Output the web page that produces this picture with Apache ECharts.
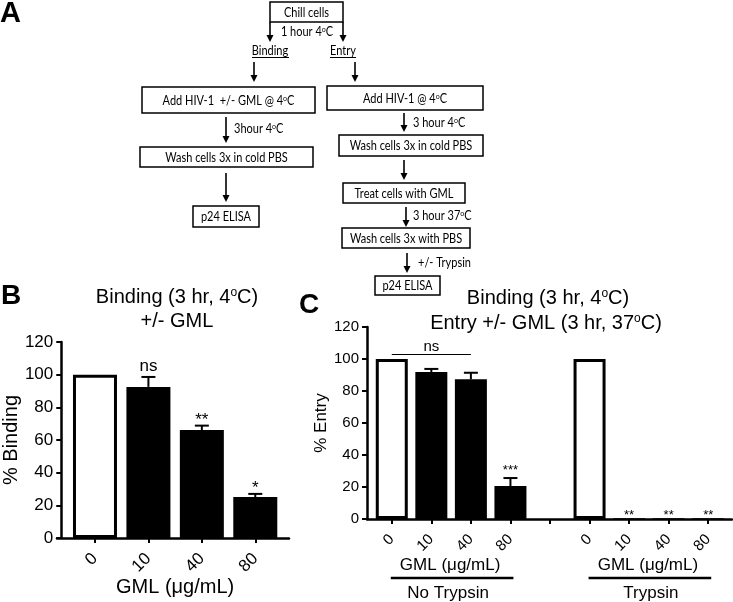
<!DOCTYPE html>
<html><head><meta charset="utf-8">
<script src="https://cdn.jsdelivr.net/npm/echarts@6/dist/echarts.min.js"></script>
<style>html,body{margin:0;padding:0;background:#fff}#c{width:733px;height:602px}</style>
</head><body><div id="c"></div>
<script>
// ---------- data ----------
const doseLabels = ['0', '10', '40', '80'];
const bindingValues = [100, 92.5, 66.1, 25.1];
const bindingErrTop = [null, 98.6, 68.8, 27.0];
const bindingSig = ['', 'ns', '**', '*'];

const entryCategories = ['0', '10', '40', '80', '', '0', '10', '40', '80'];
const entryValues = [100, 91.9, 87.3, 20.6, null, 100, 0.5, 0.5, 0.5];
const entryErrTop = [null, 93.8, 91.4, 25.6, null, null, null, null, null];
const entrySig = ['', '', '', '***', '', '', '**', '**', '**'];
const entryNsRange = [0, 2];
const entryNsLevel = 103;
const entryNsIndex = 1;
const entryGroups = ['No Trypsin', 'Trypsin'];
const entryGroupRanges = [[0, 3], [5, 8]];

const yMin = 0, yMax = 120, yStep = 20;
const doseAxisName = 'GML (\u03bcg/mL)';

const flowSteps = ['Chill cells', '1 hour 4{s|o}C', 'Binding', 'Entry',
  'Add HIV-1  +/- GML @ 4{s|o}C', 'Add HIV-1 @ 4{s|o}C', '3hour 4{s|o}C', '3 hour 4{s|o}C',
  'Wash cells 3x in cold PBS', 'Wash cells 3x in cold PBS', 'p24 ELISA', 'Treat cells with GML',
  '3 hour 37{s|o}C', 'Wash cells 3x with PBS', '+/- Trypsin', 'p24 ELISA'];

// ---------- styles ----------
const F = '"Liberation Sans", Arial, sans-serif';
const FF = 'Lato, "Open Sans", sans-serif';
const BLACK = '#000';

function barData(values, labels) {
  return values.map((v, i) => {
    if (v == null) return '-';
    if (labels[i] === '0') return { value: v, itemStyle: { color: '#fff', borderColor: BLACK, borderWidth: 3 } };
    return { value: v, itemStyle: { color: BLACK } };
  });
}
function errData(values, tops) {
  const out = [];
  tops.forEach((t, i) => { if (t != null) out.push([i, values[i], t]); });
  return out;
}
function sigData(values, tops, sig, dyErr, dyBar) {
  const out = [];
  sig.forEach((s, i) => {
    if (!s) return;
    const hasErr = tops[i] != null;
    const isStar = s.charAt(0) === '*';
    out.push({ value: [i, hasErr ? tops[i] : values[i]], name: s,
      label: { offset: [0, isStar ? (hasErr ? dyErr : dyBar) : 0] } });
  });
  return out;
}
function errRender(params, api) {
  const base = api.coord([api.value(0), api.value(1)]);
  const top = api.coord([api.value(0), api.value(2)]);
  const h = 7;
  return { type: 'group', children: [
    { type: 'line', shape: { x1: base[0], y1: base[1], x2: top[0], y2: top[1] }, style: { stroke: BLACK, lineWidth: 2 } },
    { type: 'line', shape: { x1: top[0] - h, y1: top[1], x2: top[0] + h, y2: top[1] }, style: { stroke: BLACK, lineWidth: 2 } }
  ] };
}

function yAxisCfg(grid, name, nameSize, labelSize, offset, nameGap) {
  return {
    type: 'value', gridIndex: grid, min: yMin, max: yMax, interval: yStep, offset: offset,
    name: name, nameLocation: 'middle', nameRotate: 90, nameGap: nameGap,
    nameTextStyle: { fontFamily: F, fontSize: nameSize, color: BLACK },
    axisLine: { show: true, lineStyle: { color: BLACK, width: 2.5 } },
    axisTick: { show: true, length: 5, lineStyle: { color: BLACK, width: 2 } },
    axisLabel: { fontFamily: F, fontSize: labelSize, color: BLACK, margin: 8 },
    splitLine: { show: false }
  };
}
function xCatAxis(grid, cats, size, margin) {
  return { type: 'category', gridIndex: grid, data: cats,
    axisLine: { show: false },
    axisTick: { show: true, alignWithLabel: true, interval: 0, length: 5, lineStyle: { color: BLACK, width: 2 } },
    axisLabel: { show: true, rotate: 45, interval: 0, fontFamily: F, fontSize: size, color: BLACK, margin: margin } };
}
function xLineAxis(grid) {
  return { type: 'value', gridIndex: grid, min: 0, max: 1, show: true,
    axisLine: { show: true, onZero: false, lineStyle: { color: BLACK, width: 2.5 } },
    axisTick: { show: false }, axisLabel: { show: false }, splitLine: { show: false } };
}

const chart = echarts.init(document.getElementById('c'));

const sigLabel = (size) => ({ show: true, position: 'top', distance: 2, formatter: p => p.name,
  fontFamily: F, color: BLACK, fontSize: size });

const option = {
  animation: false,
  backgroundColor: '#fff',
  grid: [
    { left: 64, width: 218, top: 342, height: 196 },
    { left: 57, width: 232, top: 342, height: 196 },
    { left: 372, width: 356, top: 327, height: 192 },
    { left: 367, width: 365, top: 327, height: 192 }
  ],
  xAxis: [
    xCatAxis(0, doseLabels, 17, 18),
    xLineAxis(1),
    xCatAxis(2, entryCategories, 15, 18),
    xLineAxis(3)
  ],
  yAxis: [
    yAxisCfg(0, '% Binding', 20, 17, 7, 36),
    { type: 'value', gridIndex: 1, min: 0, max: 1, show: false },
    yAxisCfg(2, '% Entry', 17, 15, 5, 30),
    { type: 'value', gridIndex: 3, min: 0, max: 1, show: false }
  ],
  series: [
    { type: 'bar', xAxisIndex: 0, yAxisIndex: 0, barWidth: 44, data: barData(bindingValues, doseLabels) },
    { type: 'custom', xAxisIndex: 0, yAxisIndex: 0, renderItem: errRender, data: errData(bindingValues, bindingErrTop), z: 3 },
    { type: 'scatter', xAxisIndex: 0, yAxisIndex: 0, symbolSize: 0, itemStyle: { opacity: 1 },
      data: sigData(bindingValues, bindingErrTop, bindingSig, 5, 5),
      label: sigLabel(17) },
    { type: 'bar', xAxisIndex: 2, yAxisIndex: 2, barWidth: 32, data: barData(entryValues, entryCategories),
      markLine: { silent: true, symbol: 'none', label: { show: false },
        lineStyle: { color: BLACK, width: 1, type: 'solid', opacity: 1 },
        data: [[{ coord: [entryNsRange[0], entryNsLevel] }, { coord: [entryNsRange[1], entryNsLevel] }]] } },
    { type: 'custom', xAxisIndex: 2, yAxisIndex: 2, renderItem: errRender, data: errData(entryValues, entryErrTop), z: 3 },
    { type: 'scatter', xAxisIndex: 2, yAxisIndex: 2, symbolSize: 0, itemStyle: { opacity: 1 },
      data: sigData(entryValues, entryErrTop, entrySig, 1, 6),
      label: sigLabel(13) },
    { type: 'scatter', xAxisIndex: 2, yAxisIndex: 2, symbolSize: 0, itemStyle: { opacity: 1 },
      data: [{ value: [entryNsIndex, entryNsLevel], name: 'ns' }],
      label: { show: true, position: 'top', distance: 0, formatter: p => p.name, fontFamily: F, color: BLACK, fontSize: 15 } }
  ]
};
chart.setOption(option);

// ---------- graphic: titles, panel letters, group labels, flowchart ----------
function txt(x, y, text, size, opts) {
  opts = opts || {};
  const st = {
    text: text, x: 0, y: 0, fill: BLACK,
    font: (opts.bold ? 'bold ' : '') + size + 'px ' + (opts.family || F),
    textAlign: opts.align || 'center', align: opts.align || 'center',
    textVerticalAlign: 'middle', verticalAlign: 'middle'
  };
  if (text.indexOf('{s|') >= 0) {
    st.rich = { s: { fontSize: Math.round(size * 0.62), fontFamily: opts.family || F, verticalAlign: 'top', fill: BLACK, color: BLACK } };
  }
  return { type: 'text', x: x, y: y, scaleX: opts.sx || 1, style: st, z: 10 };
}
function line(x1, y1, x2, y2, w) {
  return { type: 'line', shape: { x1, y1, x2, y2 }, style: { stroke: BLACK, lineWidth: w || 1.5 }, z: 10 };
}
const FS = 12.5, SX = 0.88;
function ftxt(x, y, text, align) {
  return txt(x, y, text, FS, { family: FF, align: align || 'center', sx: SX });
}
function box(x1, y1, x2, y2, label) {
  return [
    { type: 'rect', shape: { x: x1, y: y1, width: x2 - x1, height: y2 - y1 }, style: { fill: '#fff', stroke: BLACK, lineWidth: 1.5 }, z: 10 },
    ftxt((x1 + x2) / 2, (y1 + y2) / 2 + 0.5, label)
  ];
}
function arrow(x, y1, y2) {
  return [
    line(x, y1, x, y2 - 4, 1.6),
    { type: 'polygon', shape: { points: [[x - 3.5, y2 - 7], [x, y2], [x + 3.5, y2 - 7]] }, style: { fill: BLACK }, z: 10 }
  ];
}

const g = [];
// panel letters
g.push(txt(0, 14, 'A', 29, { bold: true, align: 'left' }));
g.push(txt(1, 296, 'B', 28, { bold: true, align: 'left' }));
g.push(txt(299, 305, 'C', 28, { bold: true, align: 'left' }));
// titles
g.push(txt(177, 297, 'Binding (3 hr, 4{s|o}C)', 20));
g.push(txt(177, 321, '+/- GML', 20));
g.push(txt(548, 298, 'Binding (3 hr, 4{s|o}C)', 20));
g.push(txt(546, 323, 'Entry +/- GML (3 hr, 37{s|o}C)', 20));

// flowchart
g.push(...box(270, 2, 343, 22, flowSteps[0]));
g.push(...arrow(270, 22, 42), ...arrow(343, 22, 42));
g.push(ftxt(307, 32, flowSteps[1]));
g.push(ftxt(270, 51, flowSteps[2]), line(252, 57.5, 289, 57.5, 1));
g.push(ftxt(343, 51, flowSteps[3]), line(330, 57.5, 356, 57.5, 1));
g.push(...arrow(254, 62, 82), ...arrow(355, 62, 82));
g.push(...box(142, 87, 315, 113, flowSteps[4]));
g.push(...box(327, 86, 483, 110, flowSteps[5]));
g.push(...arrow(226, 117, 143));
g.push(ftxt(234, 129, flowSteps[6], 'left'));
g.push(...arrow(404, 113, 132));
g.push(ftxt(413, 123, flowSteps[7], 'left'));
g.push(...box(140, 147, 313, 167, flowSteps[8]));
g.push(...box(339, 135, 483, 156, flowSteps[9]));
g.push(...arrow(226, 173, 202));
g.push(...box(193, 206, 259, 227, flowSteps[10]));
g.push(...arrow(404, 160, 180));
g.push(...box(343, 183, 465, 203, flowSteps[11]));
g.push(...arrow(406, 207, 227));
g.push(ftxt(413, 216, flowSteps[12], 'left'));
g.push(...box(342, 228, 470, 248, flowSteps[13]));
g.push(...arrow(407, 253, 273));
g.push(ftxt(418, 263, flowSteps[14], 'left'));
g.push(...box(375, 276, 440, 295, flowSteps[15]));

// x-axis name under panel B, centred on the category axis
{
  const xa = chart.convertToPixel({ xAxisIndex: 0 }, 0);
  const xb = chart.convertToPixel({ xAxisIndex: 0 }, doseLabels.length - 1);
  g.push(txt((xa + xb) / 2, 587, doseAxisName, 20));
}
// group labels under panel C, placed from the category axis scale
entryGroups.forEach((name, k) => {
  const r = entryGroupRanges[k];
  const xa = chart.convertToPixel({ xAxisIndex: 2 }, r[0]);
  const xb = chart.convertToPixel({ xAxisIndex: 2 }, r[1]);
  const cx = (xa + xb) / 2;
  g.push(txt(cx - 1, 565, doseAxisName, 17));
  g.push(line(xa - 1, 578, xb + 3, 578, 2.5));
  g.push(txt(cx + (k ? 2 : -3), 593, name, 17));
});

chart.setOption({ graphic: { elements: g } });
</script>
</body></html>
